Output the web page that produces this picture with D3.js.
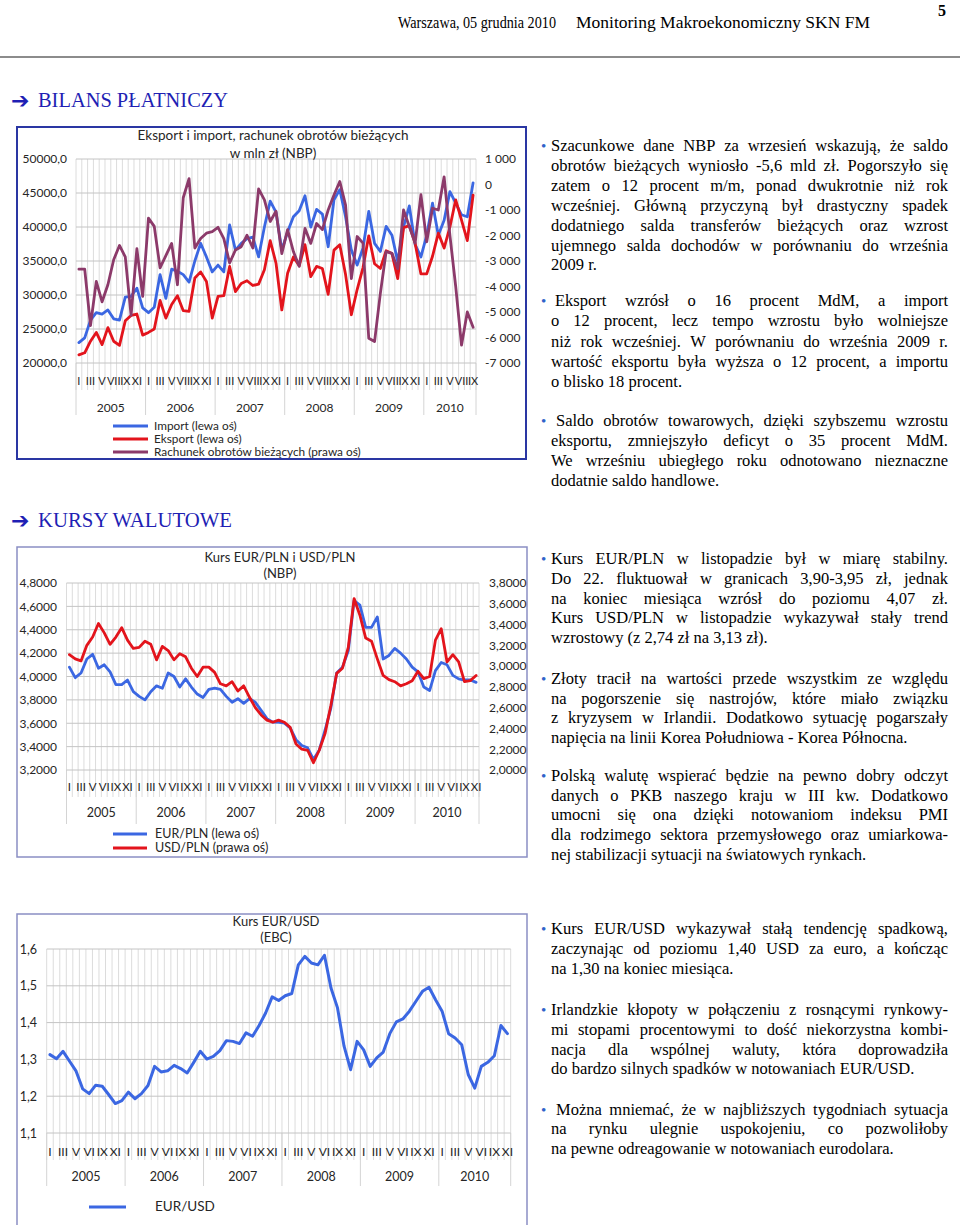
<!DOCTYPE html>
<html><head><meta charset="utf-8">
<script src="https://cdn.jsdelivr.net/npm/d3@7"></script>
<style>
html,body{margin:0;padding:0;background:#fff;}
svg{display:block;}
</style></head><body>
<svg id="page" width="960" height="1225"></svg>
<script>
// ---------------- DATA ----------------
const years = ["2005","2006","2007","2008","2009","2010"];
const monthsBop = ["I","","III","","V","","VII","","IX","","XI",""];
const monthsFx  = ["I","","III","","V","","VI","","IX","","XI",""];

const bopLeftTicks  = [20000,25000,30000,35000,40000,45000,50000];
const bopRightTicks = [-7000,-6000,-5000,-4000,-3000,-2000,-1000,0,1000];
const fxLeftTicks   = [3.2,3.4,3.6,3.8,4.0,4.2,4.4,4.6,4.8];
const fxRightTicks  = [2.0,2.2,2.4,2.6,2.8,3.0,3.2,3.4,3.6,3.8];
const eurusdTicks   = [1.1,1.2,1.3,1.4,1.5,1.6];

// Import, Eksport (mln zł), I 2005 - IX 2010
const importVals = [
 23000,23700,26300,27400,27200,27800,26500,26300,29700,29800,31000,28100,
 27400,28200,33000,29500,33800,33500,33000,31900,35000,37600,35600,33400,
 34400,33400,40300,36600,37600,38300,38500,35600,40000,43800,42200,36600,
 39300,41500,42400,44600,40000,42600,41900,37100,44000,45500,41500,36600,
 34400,36900,42300,37600,36400,40100,38800,34900,40000,43100,37400,35600,
 38800,43500,38800,41000,45200,43500,41800,41500,46500];
const exportVals = [
 21200,21500,23200,24500,22700,25200,23200,22600,26200,27000,27200,24100,
 24500,25000,29200,26600,28600,29900,27700,27600,32500,33400,32000,26600,
 29800,29900,34200,30500,31700,32100,31400,31600,33700,38000,34700,27800,
 33200,35600,34300,37400,32700,34200,33900,30100,36600,37400,33000,27100,
 30800,34000,38700,34600,33900,36500,36100,32400,39900,40200,37600,33100,
 33100,35700,39100,36900,40000,44000,41000,38000,44700];
// Rachunek obrotów bieżących (prawa oś)
const currentAccount = [
 -3320,-3320,-5530,-3800,-4600,-3930,-2950,-2390,-2840,-5130,-2520,-4390,
 -1320,-1640,-3270,-2790,-2310,-3930,-520,230,-2490,-2120,-1910,-1850,
 -1680,-2120,-3080,-2570,-2440,-1990,-2490,-170,-600,-1450,-1050,-2710,
 -1770,-2630,-3210,-1720,-2310,-1530,-1770,-1000,-410,120,-810,-3690,
 -2040,-2300,-6030,-6160,-4270,-2630,-2700,-3300,-1000,-1650,-2300,-400,
 -2250,-930,-1000,300,-2000,-4000,-6300,-5000,-5600];

// EUR/PLN, USD/PLN (NBP), I 2005 - XI 2010
const eurPln = [
 4.08,3.99,4.03,4.15,4.19,4.07,4.10,4.04,3.93,3.93,3.97,3.87,
 3.83,3.80,3.87,3.92,3.90,4.03,4.00,3.91,3.98,3.91,3.85,3.82,
 3.89,3.90,3.89,3.83,3.78,3.81,3.77,3.81,3.78,3.71,3.64,3.61,
 3.61,3.60,3.56,3.46,3.41,3.39,3.29,3.37,3.54,3.73,4.03,4.08,
 4.22,4.65,4.61,4.42,4.42,4.51,4.15,4.18,4.24,4.20,4.15,4.08,
 4.04,3.91,3.88,4.05,4.12,4.10,4.01,3.98,3.97,3.97,3.95];
const usdPln = [
 3.11,3.07,3.05,3.20,3.28,3.41,3.32,3.21,3.28,3.37,3.25,3.17,
 3.18,3.24,3.21,3.06,3.19,3.15,3.06,3.12,3.09,2.98,2.90,2.99,
 2.99,2.94,2.83,2.81,2.85,2.76,2.81,2.70,2.60,2.53,2.48,2.46,
 2.48,2.46,2.41,2.25,2.20,2.19,2.07,2.19,2.35,2.62,2.93,2.98,
 3.18,3.65,3.49,3.27,3.24,3.07,2.91,2.87,2.85,2.81,2.83,2.86,
 2.95,2.88,2.90,3.25,3.36,3.04,3.11,3.04,2.85,2.86,2.91];
// EUR/USD (EBC)
const eurUsd = [
 1.313,1.302,1.322,1.295,1.268,1.220,1.207,1.230,1.227,1.204,1.180,1.188,
 1.211,1.193,1.207,1.229,1.281,1.266,1.269,1.284,1.275,1.263,1.292,1.322,
 1.301,1.308,1.324,1.351,1.349,1.343,1.372,1.363,1.392,1.426,1.470,1.460,
 1.473,1.479,1.557,1.580,1.562,1.557,1.583,1.494,1.440,1.336,1.272,1.349,
 1.326,1.281,1.304,1.320,1.370,1.402,1.410,1.431,1.458,1.485,1.496,1.462,
 1.431,1.370,1.358,1.340,1.259,1.222,1.281,1.292,1.310,1.392,1.370];

// ---------------- STYLE ----------------
const SANS = "Lato, 'Open Sans', sans-serif";
const SERIF = "'Liberation Serif','Times New Roman',serif";
const C_BLUE = "#3b67e2", C_RED = "#e3141c", C_PURPLE = "#8c3a6a";
const TXT = "#262626";

const svg = d3.select("#page");
svg.append("rect").attr("width",960).attr("height",1225).attr("fill","#fff");

function plNum(dec){ return v => v.toFixed(dec).replace(".", ","); }
function spaced(v){
  const s = Math.abs(v).toString().replace(/\B(?=(\d{3})+(?!\d))/g, " ");
  return (v < 0 ? "-" : "") + s;
}

function drawChart(o){
  const g = svg.append("g");
  g.append("rect").attr("x",o.box[0]).attr("y",o.box[1]).attr("width",o.box[2]).attr("height",o.box[3])
    .attr("fill","#fff").attr("stroke",o.boxColor).attr("stroke-width",o.boxWidth);
  const n = o.series[0].values.length;
  const x = d3.scaleBand().domain(d3.range(n)).range([o.x0,o.x1]);
  const yL = d3.scaleLinear().domain(o.leftDomain).range([o.yBot,o.yTop]);
  const yR = o.rightDomain ? d3.scaleLinear().domain(o.rightDomain).range([o.yBot,o.yTop]) : null;
  const step = x.step();

  g.append("g").selectAll("line").data(d3.range(n+1)).enter().append("line")
    .attr("x1",i=>o.x0+i*step).attr("x2",i=>o.x0+i*step)
    .attr("y1",o.yTop).attr("y2",o.yBot+o.monthTick)
    .attr("stroke","#dcdcdc").attr("stroke-width",1);
  const yb = d3.range(0,n,12).concat([n]);
  g.append("g").selectAll("line").data(yb).enter().append("line")
    .attr("x1",i=>o.x0+i*step).attr("x2",i=>o.x0+i*step)
    .attr("y1",o.yBot).attr("y2",o.yBot+o.yearTick)
    .attr("stroke","#d4d4d4").attr("stroke-width",1);
  g.append("g").selectAll("line").data(o.leftTicks).enter().append("line")
    .attr("x1",o.x0).attr("x2",o.x1).attr("y1",d=>yL(d)).attr("y2",d=>yL(d))
    .attr("stroke","#c4c4c4").attr("stroke-width",1);

  const la = g.append("g").attr("transform",`translate(${o.leftLabelX},0)`)
    .call(d3.axisLeft(yL).tickValues(o.leftTicks).tickFormat(o.leftFmt).tickSize(0).tickPadding(0));
  la.select(".domain").remove();
  la.selectAll("text").attr("font-family",SANS).attr("font-size",o.tickFont).attr("fill",TXT);
  if (yR){
    const ra = g.append("g").attr("transform",`translate(${o.rightLabelX},0)`)
      .call(d3.axisRight(yR).tickValues(o.rightTicks).tickFormat(o.rightFmt).tickSize(0).tickPadding(0));
    ra.select(".domain").remove();
    ra.selectAll("text").attr("font-family",SANS).attr("font-size",o.tickFont).attr("fill",TXT);
  }
  const ma = g.append("g").attr("transform",`translate(0,${o.monthY})`)
    .call(d3.axisBottom(x).tickValues(d3.range(n).filter(i=>o.months[i%12]!=="")).tickFormat(i=>o.months[i%12]).tickSize(0).tickPadding(0));
  ma.select(".domain").remove();
  ma.selectAll("text").attr("dy",null).attr("y",0).attr("font-family",SANS).attr("font-size",o.monthFont).attr("fill",TXT);
  g.append("g").selectAll("text").data(years).enter().append("text")
    .attr("x",(d,k)=>{ const a=k*12, b=Math.min(n,(k+1)*12); return o.x0+(a+b)/2*step; })
    .attr("y",o.yearY).attr("text-anchor","middle")
    .attr("font-family",SANS).attr("font-size",o.yearFont).attr("fill",TXT).text(d=>d);

  o.series.forEach(s=>{
    const sc = s.axis==="right" ? yR : yL;
    const line = d3.line().x((d,i)=>x(i)+x.bandwidth()/2).y(d=>sc(d)).curve(d3.curveLinear);
    g.append("path").datum(s.values).attr("d",line).attr("fill","none")
      .attr("stroke",s.color).attr("stroke-width",o.lineWidth).attr("stroke-linejoin","round").attr("stroke-linecap","round");
  });

  o.title.forEach((t,k)=>{
    g.append("text").attr("x",o.titleX).attr("y",o.titleY[k]).attr("text-anchor","middle")
      .attr("font-family",SANS).attr("font-size",o.titleFont).attr("fill",TXT).text(t);
  });
  o.legend.forEach(l=>{
    g.append("line").attr("x1",l.x1).attr("x2",l.x2).attr("y1",l.y).attr("y2",l.y)
      .attr("stroke",l.color).attr("stroke-width",3);
    g.append("text").attr("x",l.tx).attr("y",l.y+4).attr("font-family",SANS)
      .attr("font-size",o.legendFont).attr("fill",TXT).text(l.label);
  });
}

// ---------------- CHART 1 ----------------
drawChart({
  box:[17,127,509,332], boxColor:"#2a36a3", boxWidth:2,
  x0:76, x1:476, yTop:159, yBot:363,
  leftDomain:[20000,50000], leftTicks:bopLeftTicks, leftFmt:plNum(1), leftLabelX:67,
  rightDomain:[-7000,1000], rightTicks:bopRightTicks, rightFmt:spaced, rightLabelX:485,
  months:monthsBop, monthY:385, yearY:412, monthTick:27, yearTick:52,
  tickFont:12, monthFont:11, yearFont:12, lineWidth:2.8,
  series:[
    {values:importVals, color:C_BLUE, axis:"left"},
    {values:exportVals, color:C_RED, axis:"left"},
    {values:currentAccount, color:C_PURPLE, axis:"right"}
  ],
  title:["Eksport i import, rachunek obrotów bieżących","w mln zł (NBP)"], titleX:273, titleY:[140,158], titleFont:13.5,
  legend:[
    {x1:113,x2:148,y:426,tx:154,color:C_BLUE,label:"Import (lewa oś)"},
    {x1:113,x2:148,y:439,tx:154,color:C_RED,label:"Eksport (lewa oś)"},
    {x1:113,x2:148,y:452,tx:154,color:C_PURPLE,label:"Rachunek obrotów bieżących (prawa oś)"}
  ], legendFont:11.8
});

// ---------------- CHART 2 ----------------
drawChart({
  box:[17,547,510,310], boxColor:"#8a8ec4", boxWidth:1.5,
  x0:66.5, x1:479, yTop:583, yBot:770,
  leftDomain:[3.2,4.8], leftTicks:fxLeftTicks, leftFmt:plNum(4), leftLabelX:57,
  rightDomain:[2.0,3.8], rightTicks:fxRightTicks, rightFmt:plNum(4), rightLabelX:489,
  months:monthsFx, monthY:791, yearY:817, monthTick:27, yearTick:54,
  tickFont:12, monthFont:11.5, yearFont:12.5, lineWidth:2.8,
  series:[
    {values:eurPln, color:C_BLUE, axis:"left"},
    {values:usdPln, color:C_RED, axis:"right"}
  ],
  title:["Kurs EUR/PLN i USD/PLN","(NBP)"], titleX:280, titleY:[562,578], titleFont:13,
  legend:[
    {x1:113,x2:147,y:834,tx:155,color:C_BLUE,label:"EUR/PLN (lewa oś)"},
    {x1:113,x2:147,y:848,tx:155,color:C_RED,label:"USD/PLN (prawa oś)"}
  ], legendFont:12.5
});

// ---------------- CHART 3 ----------------
drawChart({
  box:[17,914,510,314], boxColor:"#8a8ec4", boxWidth:1.5,
  x0:46.7, x1:510.7, yTop:949, yBot:1133,
  leftDomain:[1.1,1.6], leftTicks:eurusdTicks, leftFmt:plNum(1), leftLabelX:37,
  rightDomain:null,
  months:monthsFx, monthY:1156, yearY:1181, monthTick:27, yearTick:53,
  tickFont:12.5, monthFont:12, yearFont:12.5, lineWidth:3,
  series:[{values:eurUsd, color:C_BLUE, axis:"left"}],
  title:["Kurs EUR/USD","(EBC)"], titleX:276, titleY:[926,942], titleFont:13,
  legend:[{x1:89,x2:126,y:1207,tx:155,color:C_BLUE,label:"EUR/USD"}], legendFont:13.5
});

// ---------------- PAGE TEXT ----------------
const hdr = svg.append("g");
hdr.append("text").attr("x",398).attr("y",28).attr("font-family",SERIF).attr("font-size",17)
  .attr("textLength",158).attr("lengthAdjust","spacingAndGlyphs").text("Warszawa, 05 grudnia 2010");
hdr.append("text").attr("x",576).attr("y",28).attr("font-family",SERIF).attr("font-size",17)
  .attr("textLength",294).attr("lengthAdjust","spacingAndGlyphs").text("Monitoring Makroekonomiczny SKN FM");
hdr.append("text").attr("x",938).attr("y",16).attr("font-family",SERIF).attr("font-size",16).attr("font-weight","bold").text("5");
hdr.append("line").attr("x1",0).attr("x2",960).attr("y1",57).attr("y2",57).attr("stroke","#8c8c8c").attr("stroke-width",2);

function heading(y, label){
  hdr.append("text").attr("x",11).attr("y",y+1).attr("font-family","'DejaVu Sans',sans-serif").attr("font-size",22)
    .attr("font-weight","bold").attr("fill","#1f1fb4").text("➔");
  hdr.append("text").attr("x",38).attr("y",y).attr("font-family",SERIF).attr("font-size",20)
    .attr("fill","#1f1fb4").attr("textLength",label.length>15?190:194).attr("lengthAdjust","spacingAndGlyphs").text(label);
}
heading(107,"BILANS PŁATNICZY");
heading(527,"KURSY WALUTOWE");

const FS = 16.5;
const tmp = svg.append("text").attr("font-family",SERIF).attr("font-size",FS).attr("visibility","hidden");
function w(s){ tmp.text(s); return tmp.node().getComputedTextLength(); }
const RX = 948;
function para(lines, ys, firstX){
  const g = svg.append("g");
  g.append("text").attr("x",541).attr("y",ys[0]-0.5).attr("font-family",SERIF).attr("font-size",15)
    .attr("fill","#2f63c9").text("•");
  lines.forEach((ln,k)=>{
    const [str, just] = ln;
    const x0 = k===0 ? firstX : 551;
    const t = g.append("text").attr("y",ys[k]).attr("font-family",SERIF).attr("font-size",FS).attr("fill","#000");
    if(!just){ t.attr("x",x0).text(str); return; }
    const words = str.split(" ");
    const ws = words.map(w);
    const gap = (RX - x0 - d3.sum(ws))/(words.length-1);
    let cx = x0;
    words.forEach((wd,i)=>{ t.append("tspan").attr("x",cx).text(wd); cx += ws[i]+gap; });
  });
}
para([
 ["Szacunkowe dane NBP za wrzesień wskazują, że saldo",1],
 ["obrotów bieżących wyniosło -5,6 mld zł. Pogorszyło się",1],
 ["zatem o 12 procent m/m, ponad dwukrotnie niż rok",1],
 ["wcześniej. Główną przyczyną był drastyczny spadek",1],
 ["dodatniego salda transferów bieżących oraz wzrost",1],
 ["ujemnego salda dochodów w porównaniu do września",1],
 ["2009 r.",0]], [151,171,191,211,231,251,270], 551);
para([
 ["Eksport wzrósł o 16 procent MdM, a import",1],
 ["o 12 procent, lecz tempo wzrostu było wolniejsze",1],
 ["niż rok wcześniej. W porównaniu do września 2009 r.",1],
 ["wartość eksportu była wyższa o 12 procent, a importu",1],
 ["o blisko 18 procent.",0]], [306,326,347,367,387], 555);
para([
 ["Saldo obrotów towarowych, dzięki szybszemu wzrostu",1],
 ["eksportu, zmniejszyło deficyt o 35 procent MdM.",1],
 ["We wrześniu ubiegłego roku odnotowano nieznaczne",1],
 ["dodatnie saldo handlowe.",0]], [426,446,466,486], 556);
para([
 ["Kurs EUR/PLN w listopadzie był w miarę stabilny.",1],
 ["Do 22. fluktuował w granicach 3,90-3,95 zł, jednak",1],
 ["na koniec miesiąca wzrósł do poziomu 4,07 zł.",1],
 ["Kurs USD/PLN w listopadzie wykazywał stały trend",1],
 ["wzrostowy (z 2,74 zł na 3,13 zł).",0]], [564,584,604,623,643], 551);
para([
 ["Złoty tracił na wartości przede wszystkim ze względu",1],
 ["na pogorszenie się nastrojów, które miało związku",1],
 ["z kryzysem w Irlandii. Dodatkowo sytuację pogarszały",1],
 ["napięcia na linii Korea Południowa - Korea Północna.",0]], [684,704,723,743], 551);
para([
 ["Polską walutę wspierać będzie na pewno dobry odczyt",1],
 ["danych o PKB naszego kraju w III kw. Dodatkowo",1],
 ["umocni się ona dzięki notowaniom indeksu PMI",1],
 ["dla rodzimego sektora przemysłowego oraz umiarkowa-",1],
 ["nej stabilizacji sytuacji na światowych rynkach.",0]], [781,801,820,840,860], 551);
para([
 ["Kurs EUR/USD wykazywał stałą tendencję spadkową,",1],
 ["zaczynając od poziomu 1,40 USD za euro, a kończąc",1],
 ["na 1,30 na koniec miesiąca.",0]], [934,954,974], 551);
para([
 ["Irlandzkie kłopoty w połączeniu z rosnącymi rynkowy-",1],
 ["mi stopami procentowymi to dość niekorzystna kombi-",1],
 ["nacja dla wspólnej waluty, która doprowadziła",1],
 ["do bardzo silnych spadków w notowaniach EUR/USD.",0]], [1015,1035,1055,1074], 551);
para([
 ["Można mniemać, że w najbliższych tygodniach sytuacja",1],
 ["na rynku ulegnie uspokojeniu, co pozwoliłoby",1],
 ["na pewne odreagowanie w notowaniach eurodolara.",0]], [1115,1134,1154], 556);
tmp.remove();
</script>
</body></html>
